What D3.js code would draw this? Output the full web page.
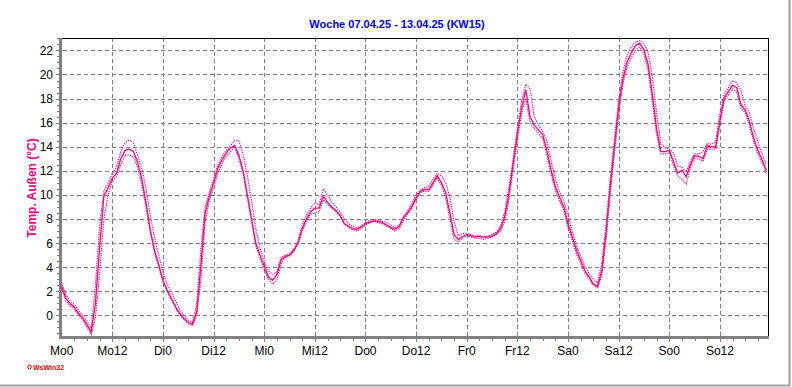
<!DOCTYPE html>
<html>
<head>
<meta charset="utf-8">
<script src="https://cdn.jsdelivr.net/npm/d3@7"></script>
<style>
  body { margin: 0; background: #fff; }
  svg { display: block; font-family: "Liberation Sans", Arial, sans-serif; }
</style>
</head>
<body>
<svg id="chart" width="792" height="387"></svg>
<script>
// tick labels along x (every 12 hours)
const dayLabels = ['Mo0', 'Mo12', 'Di0', 'Di12', 'Mi0', 'Mi12', 'Do0', 'Do12',
                   'Fr0', 'Fr12', 'Sa0', 'Sa12', 'So0', 'So12']
const yTicks = [0, 2, 4, 6, 8, 10, 12, 14, 16, 18, 20, 22]

// hourly outside temperature, Mo 0:00 .. So 23:00
const temp = [
  2.4, 1.4, 0.95, 0.7, 0.15, -0.25, -0.8, -1.4, 1.0, 5.7,
  9.9, 10.6, 11.4, 11.8, 13.0, 13.7, 13.8, 13.6, 12.7, 11.3,
  9.3, 7.1, 5.4, 4.2, 2.9, 2.1, 1.4, 0.7, 0.15, -0.25,
  -0.6, -0.75, 0.3, 4.2, 8.5, 9.9, 11.0, 12.2, 12.9, 13.5,
  13.9, 14.1, 13.3, 12.0, 10.0, 8.0, 6.0, 5.0, 4.1, 3.2,
  2.9, 3.4, 4.6, 4.9, 5.0, 5.4, 6.0, 7.2, 8.0, 8.6,
  8.9, 8.9, 9.9, 9.4, 9.0, 8.7, 8.3, 7.6, 7.4, 7.2,
  7.15, 7.35, 7.6, 7.75, 7.85, 7.8, 7.7, 7.5, 7.3, 7.15,
  7.4, 8.1, 8.55, 9.05, 9.75, 10.3, 10.45, 10.45, 11.0, 11.6,
  11.0, 10.2, 8.5, 6.7, 6.3, 6.55, 6.7, 6.6, 6.5, 6.55,
  6.5, 6.5, 6.6, 6.8, 7.2, 8.2, 10.1, 12.6, 15.1, 17.2,
  18.7, 16.5, 15.8, 15.4, 15.0, 13.7, 12.05, 10.7, 9.8, 9.0,
  7.6, 6.5, 5.4, 4.55, 3.7, 3.2, 2.6, 2.4, 3.7, 6.8,
  10.7, 14.0, 17.3, 19.6, 21.0, 21.8, 22.4, 22.6, 22.05, 20.8,
  18.3, 15.5, 13.6, 13.6, 13.7, 12.75, 11.8, 12.05, 11.5, 12.5,
  13.25, 13.2, 13.0, 14.1, 14.0, 14.0, 16.2, 18.0, 18.6, 19.1,
  18.9, 17.5, 17.05, 16.1, 14.7, 13.7, 12.9, 12.05
]

// hourly max (dotted)
const tempMax = [
  2.7, 1.7, 1.2, 0.9, 0.4, 0.0, -0.5, -1.1, 2.5, 7.5,
  10.3, 11.0, 11.8, 12.3, 13.6, 14.3, 14.6, 14.3, 13.3, 12.2,
  10.5, 8.3, 6.5, 5.0, 3.6, 2.6, 1.9, 1.2, 0.5, 0.0,
  -0.4, -0.6, 0.9, 5.5, 9.0, 10.2, 11.3, 12.5, 13.2, 13.7,
  14.1, 14.5, 14.5, 13.4, 11.6, 9.5, 7.2, 5.6, 4.5, 3.7,
  3.4, 3.6, 4.8, 5.0, 5.1, 5.5, 6.2, 7.5, 8.3, 8.9,
  9.3, 9.2, 10.5, 10.0, 9.4, 9.0, 8.6, 8.0, 7.6, 7.4,
  7.3, 7.4, 7.7, 7.9, 7.95, 7.9, 7.8, 7.7, 7.5, 7.3,
  7.5, 8.2, 8.7, 9.3, 10.0, 10.4, 10.6, 10.7, 11.3, 11.8,
  11.6, 11.0, 9.8, 7.8, 6.6, 6.8, 6.8, 6.7, 6.6, 6.6,
  6.5, 6.6, 6.7, 6.9, 7.4, 8.6, 10.6, 13.0, 15.5, 17.8,
  19.2, 18.8, 16.5, 15.8, 15.3, 14.5, 12.8, 11.3, 10.3, 9.5,
  8.3, 7.0, 5.8, 4.9, 4.1, 3.5, 3.0, 2.7, 4.3, 7.5,
  11.3, 14.6, 17.8, 20.2, 21.6, 22.3, 22.7, 22.8, 22.6, 21.8,
  19.8, 16.8, 14.3, 13.9, 13.8, 13.5, 12.4, 12.3, 11.9, 12.8,
  13.4, 13.4, 13.6, 14.3, 14.2, 14.4, 16.8, 18.4, 18.9, 19.5,
  19.3, 18.7, 17.4, 16.8, 15.5, 14.4, 13.4, 12.5
]

// hourly min (dotted)
const tempMin = [
  2.2, 1.2, 0.8, 0.5, 0.0, -0.4, -1.0, -1.6, -0.2, 3.5,
  8.0, 10.0, 11.2, 11.5, 12.5, 13.3, 13.3, 13.2, 12.3, 10.8,
  9.0, 6.9, 5.2, 4.0, 2.8, 2.0, 1.3, 0.6, 0.0, -0.35,
  -0.7, -0.85, 0.0, 3.0, 7.8, 9.5, 10.6, 11.8, 12.6, 13.2,
  13.6, 14.0, 13.0, 11.8, 9.8, 7.8, 5.8, 4.8, 3.8, 3.0,
  2.6, 2.9, 4.3, 4.8, 4.9, 5.3, 5.9, 7.0, 7.8, 8.4,
  8.5, 8.6, 9.6, 9.2, 8.9, 8.6, 8.2, 7.6, 7.3, 7.1,
  7.0, 7.2, 7.5, 7.7, 7.8, 7.7, 7.6, 7.4, 7.2, 7.0,
  7.2, 7.9, 8.4, 8.9, 9.6, 10.2, 10.3, 10.3, 10.8, 11.4,
  10.8, 9.8, 8.0, 6.3, 6.1, 6.4, 6.6, 6.5, 6.4, 6.4,
  6.3, 6.4, 6.5, 6.7, 7.0, 7.8, 9.6, 12.1, 14.6, 16.8,
  18.0, 16.0, 15.5, 15.1, 14.7, 13.3, 11.7, 10.4, 9.5, 8.7,
  7.3, 6.2, 5.1, 4.3, 3.5, 3.0, 2.5, 2.3, 3.3, 6.2,
  10.0, 13.4, 16.7, 19.2, 20.6, 21.4, 22.0, 22.3, 21.7, 20.3,
  17.8, 15.0, 13.4, 13.4, 13.5, 12.5, 11.6, 11.3, 10.9, 12.2,
  13.0, 13.0, 12.8, 13.8, 13.8, 13.8, 15.8, 17.8, 18.3, 18.8,
  18.5, 17.2, 16.8, 15.8, 14.4, 13.4, 12.6, 11.8
]

const lineColor = '#ff0080'
const gridColor = '#808080'

const svg = d3.select('#chart')
const m = { left: 60, right: 768, top: 38, bottom: 337 }

const x = d3.scaleLinear().domain([-0.4, 167.4]).range([m.left, m.right])
const y = d3.scaleLinear().domain([-1.8, 23.03]).range([m.bottom, m.top])

// outer frame
svg.append('rect').attr('x', 0).attr('y', 0).attr('width', 792).attr('height', 387).attr('fill', '#fff')
svg.append('path').attr('d', 'M789.5,0V385.5H0').attr('fill', 'none').attr('stroke', '#a0a0a0').attr('stroke-width', 2)

// title
svg.append('text')
  .attr('x', 397).attr('y', 28)
  .attr('text-anchor', 'middle')
  .attr('fill', '#0000ff')
  .style('font-size', '11px').style('font-weight', 'bold')
  .text('Woche 07.04.25 - 13.04.25 (KW15)')

// y axis label
svg.append('text')
  .attr('transform', 'translate(36,188) rotate(-90)')
  .attr('text-anchor', 'middle')
  .attr('fill', lineColor)
  .style('font-size', '12px').style('font-weight', 'bold')
  .text('Temp. Außen (°C)')

// grid
const grid = svg.append('g').attr('stroke', gridColor).attr('stroke-dasharray', '4,3').attr('shape-rendering', 'crispEdges')
grid.selectAll('line.h').data(yTicks).enter().append('line')
  .attr('class', 'h')
  .attr('x1', m.left - 4).attr('x2', m.right)
  .attr('y1', d => Math.round(y(d)) + 0.5).attr('y2', d => Math.round(y(d)) + 0.5)
const majorHours = dayLabels.map((d, i) => i * 12)
grid.selectAll('line.v').data(majorHours.slice(1)).enter().append('line')
  .attr('class', 'v')
  .attr('x1', d => Math.round(x(d)) + 0.5).attr('x2', d => Math.round(x(d)) + 0.5)
  .attr('y1', m.top).attr('y2', m.bottom + 5)

// minor ticks
const minorX = d3.range(3, 168, 3).filter(h => h % 12 !== 0)
svg.append('g').attr('stroke', gridColor).attr('shape-rendering', 'crispEdges')
  .selectAll('line').data(minorX).enter().append('line')
  .attr('x1', d => Math.round(x(d)) + 0.5).attr('x2', d => Math.round(x(d)) + 0.5)
  .attr('y1', m.bottom).attr('y2', m.bottom + 4)
const minorY = d3.range(-1.5, 23.01, 0.5)
svg.append('g').attr('stroke', gridColor).attr('shape-rendering', 'crispEdges')
  .selectAll('line').data(minorY).enter().append('line')
  .attr('x1', m.left - 3).attr('x2', m.left)
  .attr('y1', d => Math.round(y(d)) + 0.5).attr('y2', d => Math.round(y(d)) + 0.5)

// frame of plot area
svg.append('path').attr('d', `M${m.left},${m.top + 0.5}H${m.right + 0.5}V${m.bottom}`)
  .attr('fill', 'none').attr('stroke', '#000').attr('shape-rendering', 'crispEdges')
svg.append('line').attr('x1', m.left).attr('x2', m.left).attr('y1', m.top).attr('y2', m.bottom + 1)
  .attr('stroke', gridColor).attr('stroke-width', 3).attr('shape-rendering', 'crispEdges')
svg.append('line').attr('x1', m.left - 1).attr('x2', m.right + 1).attr('y1', m.bottom).attr('y2', m.bottom)
  .attr('stroke', gridColor).attr('stroke-width', 3).attr('shape-rendering', 'crispEdges')

// tick labels
svg.append('g').selectAll('text').data(yTicks).enter().append('text')
  .attr('x', 53).attr('y', d => y(d) + 4.5)
  .attr('text-anchor', 'end')
  .style('font-size', '12px')
  .text(d => d)
svg.append('g').selectAll('text').data(dayLabels).enter().append('text')
  .attr('x', (d, i) => x(i * 12)).attr('y', 355)
  .attr('text-anchor', 'middle')
  .style('font-size', '12px')
  .text(d => d)

// series
const plot = svg.append('g')
const line = vals => d3.line().x((d, i) => x(i)).y(d => y(d))(vals)
plot.append('path').attr('d', line(tempMax))
  .attr('fill', 'none').attr('stroke', lineColor).attr('stroke-width', 1.2).attr('stroke-dasharray', '1.2,1.2')
plot.append('path').attr('d', line(tempMin))
  .attr('fill', 'none').attr('stroke', lineColor).attr('stroke-width', 1.2).attr('stroke-dasharray', '1.2,1.2')
plot.append('path').attr('d', line(temp))
  .attr('fill', 'none').attr('stroke', lineColor).attr('stroke-width', 1.3)

// program tag
svg.append('circle').attr('cx', 29.5).attr('cy', 367).attr('r', 1.8)
  .attr('fill', 'none').attr('stroke', '#ff0000').attr('stroke-width', 1)
svg.append('text').attr('x', 33).attr('y', 370)
  .attr('fill', '#ff0000')
  .style('font-size', '7px').style('font-weight', 'bold')
  .text('WsWin32')
</script>
</body>
</html>
